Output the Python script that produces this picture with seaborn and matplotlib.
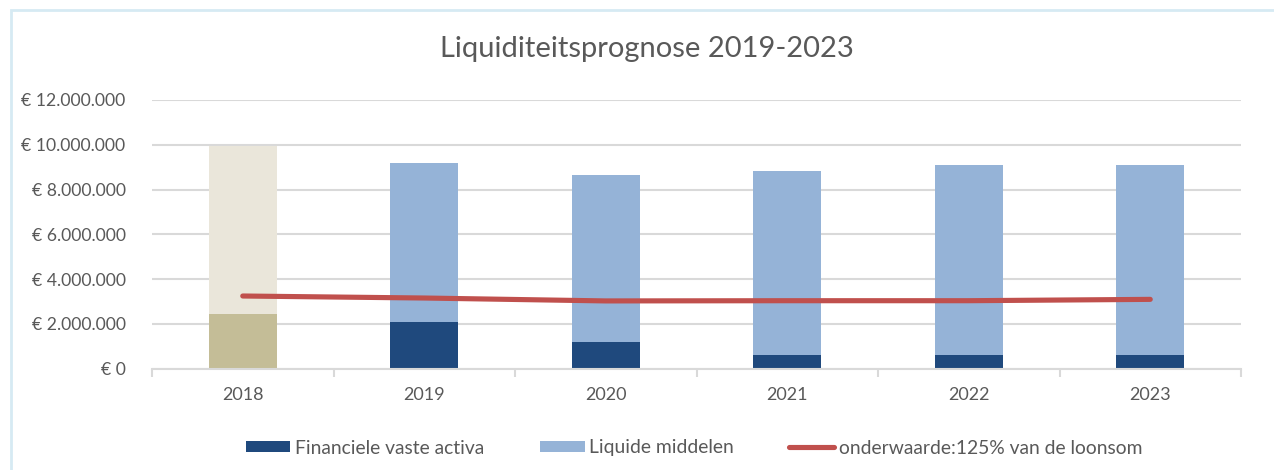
import numpy as np
import pandas as pd
import matplotlib
matplotlib.use("Agg")
import matplotlib.pyplot as plt
import seaborn as sns
from matplotlib.patches import Patch, Rectangle
from matplotlib.lines import Line2D
from matplotlib.ticker import FuncFormatter, FixedLocator

# ---- data ----
years = ["2018", "2019", "2020", "2021", "2022", "2023"]
financiele_vaste_activa = [2.42e6, 2.07e6, 1.17e6, 0.62e6, 0.62e6, 0.62e6]
liquide_middelen = [7.53e6, 7.11e6, 7.46e6, 8.22e6, 8.47e6, 8.47e6]
onderwaarde = [3.24e6, 3.15e6, 3.02e6, 3.03e6, 3.03e6, 3.09e6]
y_ticks = [0, 2e6, 4e6, 6e6, 8e6, 10e6, 12e6]

series_names = ["Financiele vaste activa", "Liquide middelen",
                "onderwaarde:125% van de loonsom"]
title = "Liquiditeitsprognose 2019-2023"

# ---- colours ----
dark_blue = "#1F497D"
light_blue = "#95B3D7"
tan_dark = "#C4BD97"
tan_light = "#EAE6DA"
red = "#C0504D"
grid_c = "#D9D9D9"
text_c = "#595959"

sns.set_theme(style="white")
plt.rcParams["font.family"] = ["Lato", "DejaVu Sans"]

df = pd.DataFrame({
    "year": years,
    "fva": financiele_vaste_activa,
    "lm": liquide_middelen,
    "line": onderwaarde,
})
df["total"] = df["fva"] + df["lm"]

fig = plt.figure(figsize=(12.74, 4.70), dpi=100)
ax = fig.add_axes([152 / 1274, 1 - 368.5 / 470, (1241 - 152) / 1274, (368.5 - 100) / 470])

top_pal = [tan_light] + [light_blue] * (len(years) - 1)
bot_pal = [tan_dark] + [dark_blue] * (len(years) - 1)

sns.barplot(data=df, x="year", y="total", hue="year", palette=top_pal,
            legend=False, width=0.375, saturation=1, ax=ax, zorder=3,
            edgecolor="none")
sns.barplot(data=df, x="year", y="fva", hue="year", palette=bot_pal,
            legend=False, width=0.375, saturation=1, ax=ax, zorder=4,
            edgecolor="none")
sns.pointplot(data=df, x="year", y="line", color=red, markers="",
              linewidth=3.7, errorbar=None, ax=ax, zorder=5)
for ln in ax.lines:
    ln.set_solid_capstyle("round")
    ln.set_zorder(5)

ax.set_ylim(0, 12e6)
ax.set_xlim(-0.5, len(years) - 0.5)
ax.yaxis.set_major_locator(FixedLocator(y_ticks))
ax.yaxis.set_major_formatter(FuncFormatter(
    lambda v, p: "€ " + (f"{int(v):,}".replace(",", ".") if v else "0")))
ax.grid(axis="y", color=grid_c, linewidth=1.5, zorder=0)
ax.grid(axis="x", visible=False)
ax.set_axisbelow(True)
for s in ["top", "right", "left"]:
    ax.spines[s].set_visible(False)
ax.spines["bottom"].set_color(grid_c)
ax.spines["bottom"].set_linewidth(1.5)
ax.spines["bottom"].set_zorder(6)

ax.set_xticks(range(len(years)))
ax.set_xticklabels(years)
ax.set_xticks(np.arange(-0.5, len(years), 1.0), minor=True)
ax.tick_params(axis="x", which="major", length=0, pad=13, labelsize=13, labelcolor=text_c)
ax.tick_params(axis="x", which="minor", length=6, width=1.5, color=grid_c, bottom=True)
ax.tick_params(axis="y", length=0, pad=19, labelsize=12.7, labelcolor=text_c)
ax.set_xlabel("")
ax.set_ylabel("")

fig.text(647 / 1274, 1 - 49 / 470, title, ha="center", va="center",
         fontsize=21, color=text_c)

handles = [
    Patch(facecolor=dark_blue, edgecolor="none"),
    Patch(facecolor=light_blue, edgecolor="none"),
    Line2D([0], [0], color=red, linewidth=3.7, solid_capstyle="round"),
]
leg = fig.legend(handles, series_names, loc="center", ncol=3,
                 bbox_to_anchor=(694 / 1274, 1 - 448 / 470), frameon=False,
                 fontsize=13.9, handlelength=2.33, handleheight=0.55,
                 handletextpad=0.25, columnspacing=2.85, labelcolor=text_c)

fig.patches.append(Rectangle((11 / 1274, -0.1), 1.2, 1 - 10 / 470 + 0.1,
                             transform=fig.transFigure, fill=False,
                             edgecolor="#D6EAF3", linewidth=2, zorder=0))

fig.savefig("out.png", dpi=100)
